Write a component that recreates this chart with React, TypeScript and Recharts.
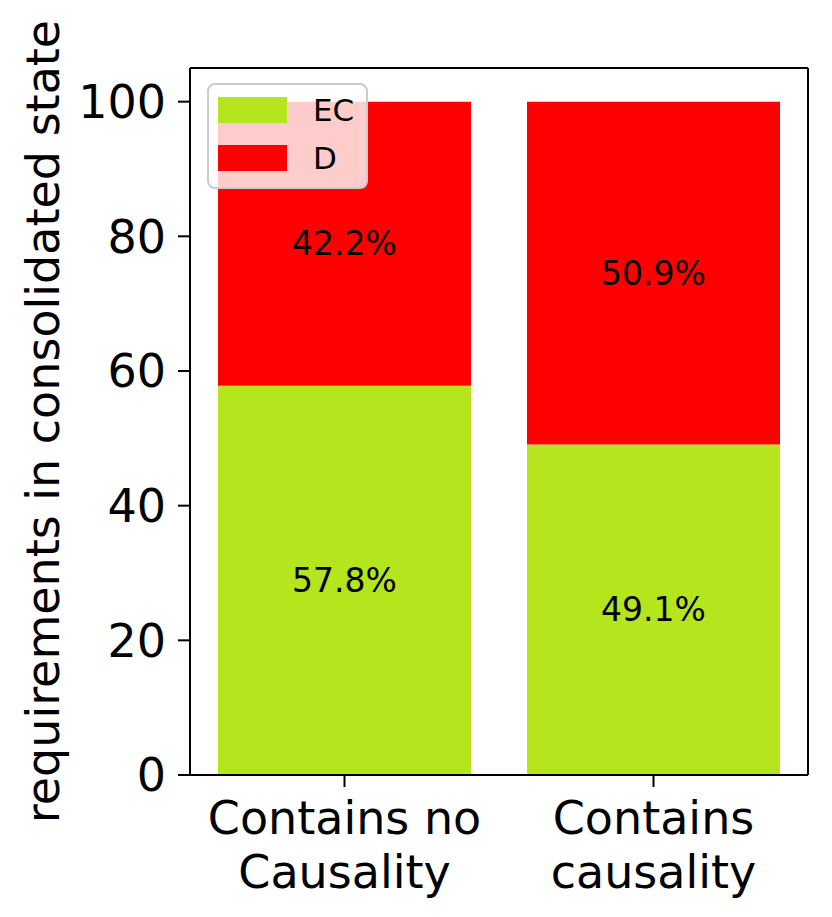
import React from "react";
import {
  BarChart, Bar, XAxis, YAxis, Legend, LabelList,
} from "recharts";

const categories = [["Contains no", "Causality"], ["Contains", "causality"]];
const ecValues = [57.8, 49.1];
const dValues = [42.2, 50.9];
const yTicks = [0, 20, 40, 60, 80, 100];

const GREEN = "#b5e51d";
const RED = "#ff0000";
const FONT = "DejaVu Sans, sans-serif";

const data = categories.map((c, i) => ({
  name: c.join(" "),
  EC: ecValues[i],
  D: dValues[i],
}));

const XTick = (props: any) => {
  const { x, y, payload } = props;
  const lines = categories[payload.index] || [payload.value];
  return (
    <text x={x} y={y} textAnchor="middle" fontFamily={FONT} fontSize={46} fill="#000">
      {lines.map((l: string, i: number) => (
        <tspan key={i} x={x} dy={i === 0 ? 45 : 54}>{l}</tspan>
      ))}
    </text>
  );
};

const LegendBox = () => (
  <div style={{
    background: "rgba(255,255,255,0.8)", border: "2px solid #cccccc", borderRadius: 8,
    width: 161, height: 106, boxSizing: "border-box", position: "relative", fontFamily: FONT,
  }}>
    {[["EC", GREEN], ["D", RED]].map(([label, color], i) => (
      <div key={label} style={{ position: "absolute", left: 9, top: 12 + i * 48, display: "flex", alignItems: "center" }}>
        <div style={{ width: 69, height: 26, background: color }} />
        <span style={{ marginLeft: 26, fontSize: 31, color: "#000", lineHeight: "26px" }}>{label}</span>
      </div>
    ))}
  </div>
);

export default function App() {
  return (
    <div style={{ position: "absolute", left: 0, top: 0, width: 832, height: 917, background: "#fff" }}>
      <BarChart width={832} height={917} data={data}
        margin={{ top: 67, right: 23, bottom: 0, left: 0 }}
        barCategoryGap={28}>
        <XAxis dataKey="name" height={142} tick={<XTick />} tickSize={12}
          axisLine={{ stroke: "#000", strokeWidth: 2 }} tickLine={{ stroke: "#000", strokeWidth: 2 }}
          interval={0} />
        <XAxis xAxisId="top" dataKey="name" orientation="top" height={1} tick={false}
          tickLine={false} axisLine={{ stroke: "#000", strokeWidth: 2 }} />
        <YAxis domain={[0, 105]} ticks={yTicks} width={190} tickSize={12} tickMargin={12}
          tick={{ fontFamily: FONT, fontSize: 46, fill: "#000" }}
          axisLine={{ stroke: "#000", strokeWidth: 2 }} tickLine={{ stroke: "#000", strokeWidth: 2 }}
          label={{ value: "requirements in consolidated state", angle: -90, position: "insideLeft",
            dx: 38, style: { textAnchor: "middle", fontFamily: FONT, fontSize: 46, fill: "#000" } }} />
        <YAxis yAxisId="right" orientation="right" width={1} domain={[0, 105]} tick={false}
          tickLine={false} axisLine={{ stroke: "#000", strokeWidth: 2 }} />
        <Legend layout="horizontal" verticalAlign="middle" align="center" content={<LegendBox />}
          wrapperStyle={{ position: "absolute", left: 207, top: 83, width: 161, height: 106 }} />
        <Bar dataKey="EC" stackId="a" fill={GREEN} isAnimationActive={false}>
          <LabelList dataKey="EC" position="center" formatter={(v: any) => `${v}%`}
            style={{ fontFamily: FONT, fontSize: 33, fill: "#000" }} />
        </Bar>
        <Bar dataKey="D" stackId="a" fill={RED} isAnimationActive={false}>
          <LabelList dataKey="D" position="center" formatter={(v: any) => `${v}%`}
            style={{ fontFamily: FONT, fontSize: 33, fill: "#000" }} />
        </Bar>
      </BarChart>
    </div>
  );
}
